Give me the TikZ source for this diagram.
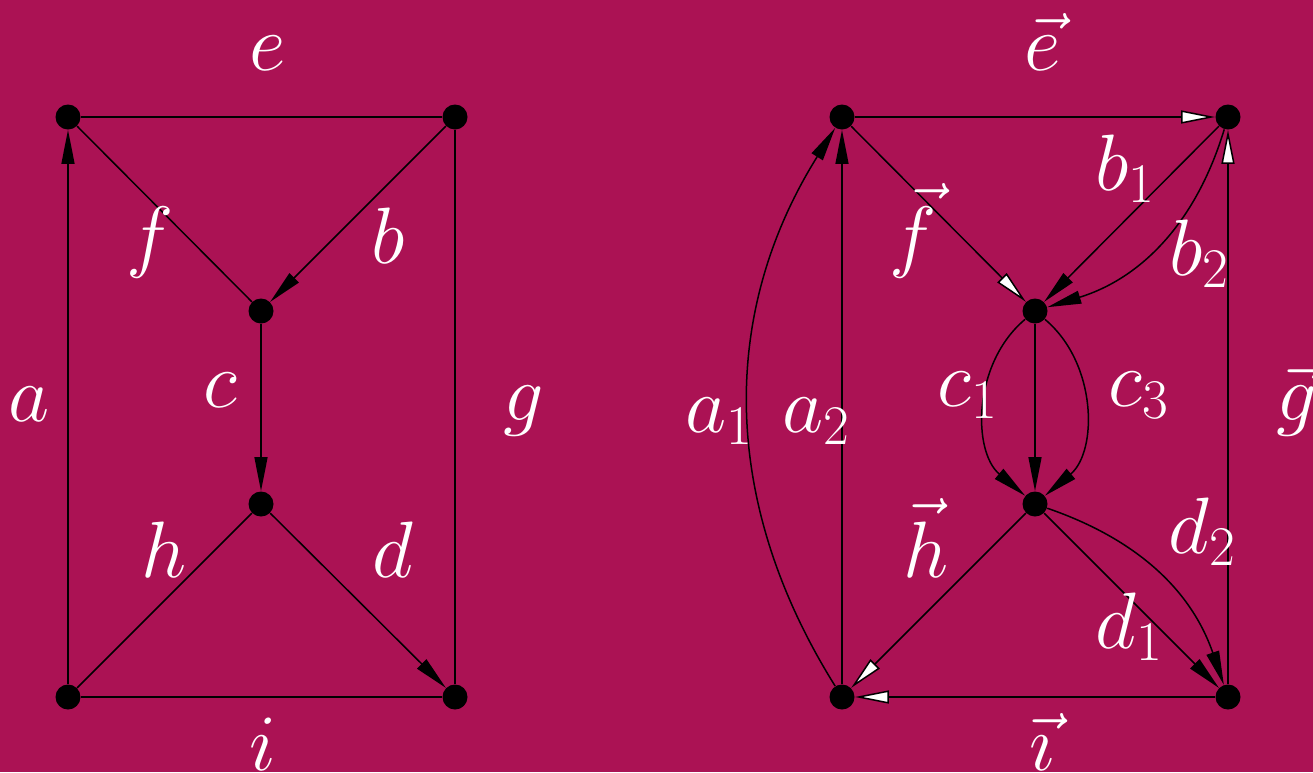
\documentclass[tikz,border=0pt]{standalone}
\usepackage{fix-cm}
\usetikzlibrary{arrows.meta}
\definecolor{bgmag}{RGB}{171,18,84}
\tikzset{
  dot/.style={circle,fill=black,inner sep=0pt,minimum size=12.5pt},
  lbl/.style={text=white,anchor=base,inner sep=0pt,font=\fontsize{40}{48}\selectfont},
  edge/.style={draw=black,line width=0.75pt},
  blk/.style={edge,-{Triangle[length=17pt,width=6.5pt,fill=black]}},
  wht/.style={edge,-{Triangle[length=17pt,width=6.5pt,fill=white]}}
}
\begin{document}
\begin{tikzpicture}[x=0.5pt,y=-0.5pt]
\fill[bgmag] (0,0) rectangle (1313,772);
\useasboundingbox (0,0) rectangle (1313,772);
% left graph nodes
\node[dot] (lTL) at (68,117) {};
\node[dot] (lTR) at (455,117) {};
\node[dot] (lC) at (261,311) {};
\node[dot] (lD) at (261,504) {};
\node[dot] (lBL) at (68,697) {};
\node[dot] (lBR) at (455,697) {};
% right graph nodes
\node[dot] (rTL) at (842,117) {};
\node[dot] (rTR) at (1228,117) {};
\node[dot] (rC) at (1035,311) {};
\node[dot] (rD) at (1035,504) {};
\node[dot] (rBL) at (842,697) {};
\node[dot] (rBR) at (1228,697) {};
% left edges
\draw[blk] (lBL) -- (lTL);
\draw[edge] (lTL) -- (lTR);
\draw[edge] (lTL) -- (lC);
\draw[blk] (lTR) -- (lC);
\draw[edge] (lTR) -- (lBR);
\draw[blk] (lC) -- (lD);
\draw[edge] (lD) -- (lBL);
\draw[blk] (lD) -- (lBR);
\draw[edge] (lBL) -- (lBR);
% right edges
\draw[wht] (rTL) -- (rTR);
\draw[blk] (rBL) to[bend left=32] (rTL);
\draw[blk] (rBL) -- (rTL);
\draw[wht] (rTL) -- (rC);
\draw[blk] (rTR) -- (rC);
\draw[blk] (rTR) to[bend left=28] (rC);
\draw[wht] (rBR) -- (rTR);
\draw[blk] (rC) to[bend right=50] (rD);
\draw[blk] (rC) -- (rD);
\draw[blk] (rC) to[bend left=50] (rD);
\draw[wht] (rD) -- (rBL);
\draw[blk] (rD) -- (rBR);
\draw[blk] (rD) to[bend left=26] (rBR);
\draw[wht] (rBR) -- (rBL);
% left labels
\node[lbl] (le) at (268,70) {$e$};
\node[lbl] (lf) at (150,262) {$f$};
\node[lbl] (lb) at (388,263) {$b$};
\node[lbl] (la) at (29,421) {$a$};
\node[lbl] (lc) at (220,407) {$c$};
\node[lbl] (lg) at (524,420) {$g$};
\node[lbl] (lh) at (164,577) {$h$};
\node[lbl] (ld) at (393,577) {$d$};
\node[lbl] (li) at (263,770) {$i$};
% right labels
\node[lbl] (re) at (1043,70) {$\vec{e}$};
\node[lbl] (rf) at (913,262) {$\vec{f}$};
\node[lbl] (rb1) at (1125,190) {$b_1$};
\node[lbl] (rb2) at (1199,275) {$b_2$};
\node[lbl] (ra1) at (719,432) {$a_1$};
\node[lbl] (ra2) at (816,432) {$a_2$};
\node[lbl] (rc1) at (968,406) {$c_1$};
\node[lbl] (rc3) at (1139,406) {$c_3$};
\node[lbl] (rg) at (1297,420) {$\vec{g}$};
\node[lbl] (rh) at (926,577) {$\vec{h}$};
\node[lbl] (rd2) at (1202,553) {$d_2$};
\node[lbl] (rd1) at (1129,648) {$d_1$};
\node[lbl] (ri) at (1042,770) {$\vec{\imath}$};
\end{tikzpicture}
\end{document}
